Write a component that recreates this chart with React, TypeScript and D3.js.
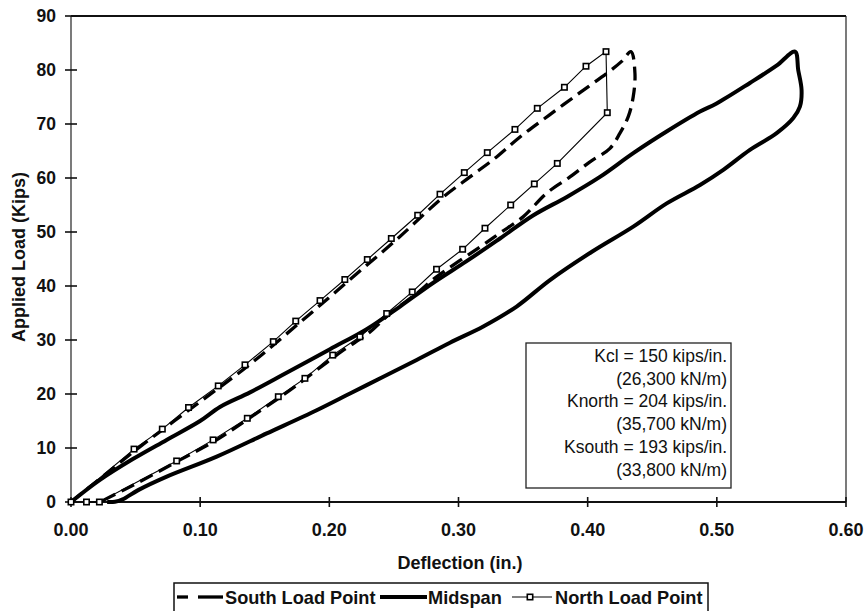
import React from "react";
import * as d3 from "d3";

// ---- Data (deflection in., applied load kips) ----
const xTicks = [0, 0.1, 0.2, 0.3, 0.4, 0.5, 0.6];
const yTicks = [0, 10, 20, 30, 40, 50, 60, 70, 80, 90];

const northLoadPoint: [number, number][] = [
  [0, 0], [0.0488, 9.8], [0.0707, 13.5], [0.091, 17.5], [0.114, 21.5], [0.1347, 25.4],
  [0.1566, 29.7], [0.174, 33.5], [0.1928, 37.3], [0.212, 41.2], [0.2294, 44.9], [0.248, 48.8],
  [0.2684, 53.1], [0.2857, 57.0], [0.3045, 61.0], [0.3223, 64.7], [0.3437, 69.0], [0.361, 72.9],
  [0.382, 76.8], [0.3987, 80.7], [0.4142, 83.4],
  [0.4152, 72.1], [0.3765, 62.7], [0.3587, 58.9], [0.3404, 55.0], [0.3205, 50.7], [0.3032, 46.8],
  [0.283, 43.1], [0.2642, 38.9], [0.2444, 34.9], [0.2237, 30.6], [0.2026, 27.2], [0.1811, 22.9],
  [0.1605, 19.5], [0.1365, 15.5], [0.110, 11.5], [0.0818, 7.6], [0.022, 0], [0.012, 0],
];

const southLoadPoint: [number, number][] = [
  [0, 0], [0.026, 5.0], [0.051, 9.8], [0.094, 17.5], [0.138, 25.4], [0.178, 33.4], [0.216, 41.2],
  [0.253, 48.8], [0.2883, 56.5], [0.3089, 60.2], [0.3295, 63.9], [0.3476, 67.6], [0.370, 71.6],
  [0.394, 75.8], [0.416, 79.6], [0.4263, 81.6], [0.4335, 83.4],
  [0.4366, 79.4], [0.4353, 75.1], [0.4315, 71.4], [0.425, 68.3], [0.4173, 65.5], [0.4018, 63.0],
  [0.3863, 60.2], [0.3683, 57.2], [0.350, 52.8], [0.332, 49.8], [0.319, 47.6], [0.283, 41.7],
  [0.2676, 38.6], [0.247, 34.9], [0.2315, 31.5], [0.2108, 28.1], [0.190, 24.4], [0.1695, 20.7],
  [0.136, 15.2], [0.1128, 11.5], [0.0844, 7.8], [0.048, 3.1], [0.0224, 0],
];

const midspan: [number, number][] = [
  [0, 0], [0.0224, 4.1], [0.0482, 8.0], [0.074, 11.5], [0.0999, 15.0], [0.1153, 17.6],
  [0.1386, 20.3], [0.1644, 23.6], [0.2005, 28.3], [0.2289, 32.0], [0.2547, 36.2], [0.2805, 40.6],
  [0.3063, 44.6], [0.3321, 48.8], [0.358, 53.1], [0.3839, 56.5], [0.4095, 60.2], [0.4353, 64.6],
  [0.4611, 68.6], [0.487, 72.3], [0.4998, 73.8], [0.5256, 77.6], [0.5462, 80.8], [0.5605, 83.4],
  [0.563, 80.0], [0.5656, 76.3], [0.5643, 73.2], [0.5592, 71.1], [0.5463, 68.3], [0.5256, 65.2],
  [0.505, 61.5], [0.487, 58.7], [0.4612, 55.3], [0.4353, 51.0], [0.403, 46.3], [0.3708, 41.1],
  [0.345, 36.2], [0.3192, 32.5], [0.2934, 29.5], [0.2676, 26.3], [0.2418, 23.2], [0.216, 20.1],
  [0.1902, 17.0], [0.1515, 12.7], [0.1128, 8.4], [0.0741, 4.7], [0.052, 2.2], [0.040, 0.5],
  [0.034, 0.05], [0.028, 0],
];

const stiffnessLines = [
  "Kcl = 150 kips/in.",
  "(26,300 kN/m)",
  "Knorth = 204 kips/in.",
  "(35,700 kN/m)",
  "Ksouth = 193 kips/in.",
  "(33,800 kN/m)",
];

const legendLabels = ["South Load Point", "Midspan", "North Load Point"];

const FONT = "'Liberation Sans', Arial, Helvetica, sans-serif";

export default function App() {
  const x = d3.scaleLinear().domain([0, 0.6]).range([71, 846]);
  const y = d3.scaleLinear().domain([0, 90]).range([502, 16]);

  const smooth = d3
    .line<[number, number]>()
    .x((d) => x(d[0]))
    .y((d) => y(d[1]))
    .curve(d3.curveCatmullRom.alpha(0.5));
  const straight = d3
    .line<[number, number]>()
    .x((d) => x(d[0]))
    .y((d) => y(d[1]));

  const lineH = 22.7;

  return (
    <svg
      width={865}
      height={611}
      style={{ position: "absolute", left: 0, top: 0, background: "#fff" }}
      fontFamily={FONT}
    >
      <rect x={0} y={0} width={865} height={611} fill="#fff" />
      {/* frame */}
      <line x1={x(0)} x2={x(0.6)} y1={y(90)} y2={y(90)} stroke="#111" strokeWidth={1.8} />
      <line x1={x(0.6)} x2={x(0.6)} y1={y(90)} y2={y(0)} stroke="#222" strokeWidth={1.2} />
      <line x1={x(0)} x2={x(0)} y1={y(90)} y2={y(0)} stroke="#222" strokeWidth={1.2} />
      <line x1={x(0)} x2={x(0.6)} y1={y(0)} y2={y(0)} stroke="#111" strokeWidth={2} />

      {/* y ticks */}
      {yTicks.map((t) => (
        <g key={"y" + t}>
          <line x1={65} x2={77} y1={y(t)} y2={y(t)} stroke="#111" strokeWidth={1.6} />
          <text x={56} y={y(t) + 6.3} textAnchor="end" fontSize={17.5} fontWeight="bold" fill="#111">
            {t}
          </text>
        </g>
      ))}
      {/* x ticks */}
      {xTicks.map((t) => (
        <g key={"x" + t}>
          <line x1={x(t)} x2={x(t)} y1={497} y2={507} stroke="#111" strokeWidth={1.6} />
          <text x={x(t)} y={536} textAnchor="middle" fontSize={18} fontWeight="bold" fill="#111">
            {t.toFixed(2)}
          </text>
        </g>
      ))}

      {/* axis titles */}
      <text x={460} y={569} textAnchor="middle" fontSize={18} fontWeight="bold" fill="#111">
        Deflection (in.)
      </text>
      <text
        transform={`translate(25,257) rotate(-90)`}
        textAnchor="middle"
        fontSize={18}
        fontWeight="bold"
        fill="#111"
      >
        Applied Load (Kips)
      </text>

      {/* series */}
      <path d={smooth(midspan) || ""} fill="none" stroke="#000" strokeWidth={4} strokeLinejoin="round" />
      <path
        d={smooth(southLoadPoint) || ""}
        fill="none"
        stroke="#000"
        strokeWidth={3.3}
        strokeDasharray="14 7"
      />
      <path d={straight(northLoadPoint) || ""} fill="none" stroke="#000" strokeWidth={1.1} />
      {northLoadPoint.map((d, i) => (
        <rect
          key={"m" + i}
          x={x(d[0]) - 2.7}
          y={y(d[1]) - 2.7}
          width={5.4}
          height={5.4}
          fill="#fff"
          stroke="#000"
          strokeWidth={1.6}
        />
      ))}

      {/* stiffness box */}
      <rect x={526} y={343} width={205} height={145} fill="#fff" stroke="#222" strokeWidth={1.3} />
      {stiffnessLines.map((s, i) => (
        <text key={s} x={727} y={362 + i * lineH} textAnchor="end" fontSize={17.5} fill="#111">
          {s}
        </text>
      ))}

      {/* legend */}
      <rect x={174} y={583} width={534} height={40} fill="#fff" stroke="#111" strokeWidth={1.5} />
      <line x1={177} x2={188} y1={597} y2={597} stroke="#000" strokeWidth={3.3} />
      <line x1={198} x2={223} y1={597} y2={597} stroke="#000" strokeWidth={3.3} />
      <text x={225} y={603.5} fontSize={18.2} fontWeight="bold" fill="#111">
        {legendLabels[0]}
      </text>
      <line x1={380} x2={427} y1={597} y2={597} stroke="#000" strokeWidth={4} />
      <text x={428} y={603.5} fontSize={18.2} fontWeight="bold" fill="#111">
        {legendLabels[1]}
      </text>
      <line x1={512} x2={552} y1={597} y2={597} stroke="#000" strokeWidth={1.1} />
      <rect x={527.3} y={594.3} width={5.4} height={5.4} fill="#fff" stroke="#000" strokeWidth={1.6} />
      <text x={555} y={603.5} fontSize={18.2} fontWeight="bold" fill="#111">
        {legendLabels[2]}
      </text>
    </svg>
  );
}
